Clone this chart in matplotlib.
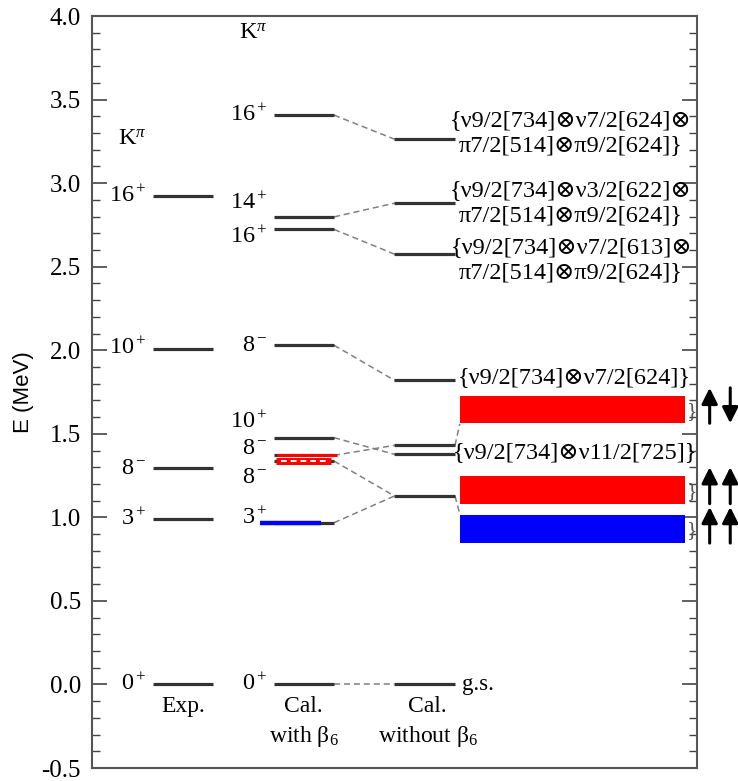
import matplotlib
matplotlib.use('Agg')
import matplotlib.pyplot as plt
from matplotlib.ticker import MultipleLocator

plt.rcParams['font.family'] = ['Liberation Serif', 'DejaVu Serif']
plt.rcParams['mathtext.fontset'] = 'custom'
plt.rcParams['mathtext.rm'] = 'Liberation Serif'
plt.rcParams['mathtext.it'] = 'Liberation Serif:italic'

# level energies (MeV)
exp_E = [0.0, 0.988, 1.295, 2.01, 2.924]
exp_K = ['0^+', '3^+', '8^-', '10^+', '16^+']

with_E = [0.0, 0.968, 1.337, 1.371, 1.477, 2.03, 2.723, 2.798, 3.407]
with_K = ['0^+', '3^+', '8^-', '8^-', '10^+', '8^-', '16^+', '14^+', '16^+']
with_K_pos = [0.0, 0.994, 1.24, 1.413, 1.569, 2.03, 2.677, 2.88, 3.407]

without_E = [0.0, 1.128, 1.377, 1.431, 1.82, 2.575, 2.88, 3.263]

# (with index, without index) pairs joined by dashed lines
links = [(0, 0), (1, 1), (2, 1), (3, 3), (4, 2), (5, 4), (6, 5), (7, 6), (8, 7)]

# configurations
config_lines = [
    ['{ν9/2[734]⊗ν7/2[624]⊗', 'π7/2[514]⊗π9/2[624]}'],
    ['{ν9/2[734]⊗ν3/2[622]⊗', 'π7/2[514]⊗π9/2[624]}'],
    ['{ν9/2[734]⊗ν7/2[613]⊗', 'π7/2[514]⊗π9/2[624]}'],
    ['{ν9/2[734]⊗ν7/2[624]}'],
    ['{ν9/2[734]⊗ν11/2[725]}'],
]
config_E = [3.30, 2.883, 2.542, 1.838, 1.389]

band_lo = [1.563, 1.082, 0.846]
band_hi = [1.725, 1.250, 1.012]
band_col = ['#ff0000', '#ff0000', '#0000ff']
spins = [('up', 'down'), ('up', 'up'), ('up', 'up')]

fig = plt.figure(figsize=(7.38, 7.81), dpi=100)
ax = fig.add_axes([0.1247, 0.0166, 0.8197, 0.9629])
ax.set_xlim(0, 10)
ax.set_ylim(-0.5, 4.0)

lvl = dict(color='#333333', lw=2.3, solid_capstyle='butt', zorder=3)
dash = dict(color='#808080', lw=1.1, ls=(0, (4, 2.5)), zorder=2)
fs = 17.5
serif = ['Liberation Serif', 'DejaVu Serif']

# experiment column
for e, k in zip(exp_E, exp_K):
    ax.plot([1, 2], [e, e], **lvl)
    ax.text(0.9, e, '$' + k + '$', ha='right', va='center', fontsize=fs)
ax.text(0.43, 3.26, r'K$^\pi$', ha='left', va='center', fontsize=fs)

# calculation with beta6
for e in with_E:
    ax.plot([3, 4], [e, e], **lvl)
for e, k in zip(with_K_pos, with_K):
    ax.text(2.9, e, '$' + k + '$', ha='right', va='center', fontsize=fs)
ax.text(2.43, 3.9, r'K$^\pi$', ha='left', va='center', fontsize=fs)

# highlighted levels
ax.plot([2.78, 3.78], [with_E[1]] * 2, color='#0000ff', lw=3.2, zorder=4, solid_capstyle='butt')
ax.plot([3.06, 4.05], [with_E[3]] * 2, color='#ff0000', lw=2.2, zorder=4, solid_capstyle='butt')
ax.plot([3.04, 3.95], [with_E[2]] * 2, color='#ff0000', lw=5, zorder=4, solid_capstyle='butt')
ax.plot([3.12, 3.9], [with_E[2]] * 2, color='white', lw=1.4, ls=(0, (3, 2)), zorder=5)

# calculation without beta6
for e in without_E:
    ax.plot([5, 6], [e, e], **lvl)
for i, j in links:
    ax.plot([4, 5], [with_E[i], without_E[j]], **dash)
ax.plot([6.0, 6.08], [without_E[3], 1.56], **dash)
ax.plot([6.0, 6.08], [without_E[1], 1.02], **dash)

# configuration labels
for lines, e in zip(config_lines, config_E):
    if len(lines) == 2:
        ax.text(7.92, e + 0.075, lines[0], ha='center', va='center', fontsize=fs)
        ax.text(7.92, e - 0.075, lines[1], ha='center', va='center', fontsize=fs)
    else:
        ax.text(7.98, e, lines[0], ha='center', va='center', fontsize=fs)
ax.text(6.12, 0.0, 'g.s.', ha='left', va='center', fontsize=fs - 1)

# bands and spin arrows
for lo, hi, c, sp in zip(band_lo, band_hi, band_col, spins):
    ax.fill_between([6.08, 9.8], lo, hi, color=c, lw=0, zorder=4)
    ax.text(9.82, (lo + hi) / 2 - 0.01, '}', ha='left', va='center', fontsize=fs - 2, color='#555555')
    for xa, d in zip([10.21, 10.55], sp):
        tail, tip = (lo, hi + 0.05) if d == 'up' else (hi + 0.05, lo)
        ax.annotate('', xy=(xa, tip), xytext=(xa, tail), annotation_clip=False,
                    arrowprops=dict(arrowstyle='-|>', color='black', lw=2.2,
                                    mutation_scale=24, shrinkA=0, shrinkB=0))

# column captions
ax.text(1.5, -0.13, 'Exp.', ha='center', va='center', fontsize=fs - 0.5)
ax.text(3.5, -0.13, 'Cal.', ha='center', va='center', fontsize=fs - 0.5)
ax.text(3.5, -0.31, r'with β$_6$', ha='center', va='center', fontsize=fs - 0.5)
ax.text(5.55, -0.13, 'Cal.', ha='center', va='center', fontsize=fs - 0.5)
ax.text(5.55, -0.31, r'without β$_6$', ha='center', va='center', fontsize=fs - 0.5)

# axes styling
ax.set_xticks([])
ax.yaxis.set_major_locator(MultipleLocator(0.5))
ax.yaxis.set_minor_locator(MultipleLocator(0.1))
ax.tick_params(axis='y', which='both', direction='in', left=True, right=True,
               labelsize=fs + 0.5, pad=8, color='#444444')
ax.tick_params(axis='y', which='major', length=11, width=1.2)
ax.tick_params(axis='y', which='minor', length=6, width=1.0)
ax.yaxis.set_major_formatter(plt.FormatStrFormatter('%.1f'))
fig.canvas.draw()
for t in ax.get_yticklabels():
    t.set_family(serif)
for s in ax.spines.values():
    s.set_color('#555555')
    s.set_linewidth(1.5)
ax.set_ylabel('E (MeV)', fontsize=16, family='Liberation Sans', labelpad=5)

fig.savefig('out.png', dpi=100)
